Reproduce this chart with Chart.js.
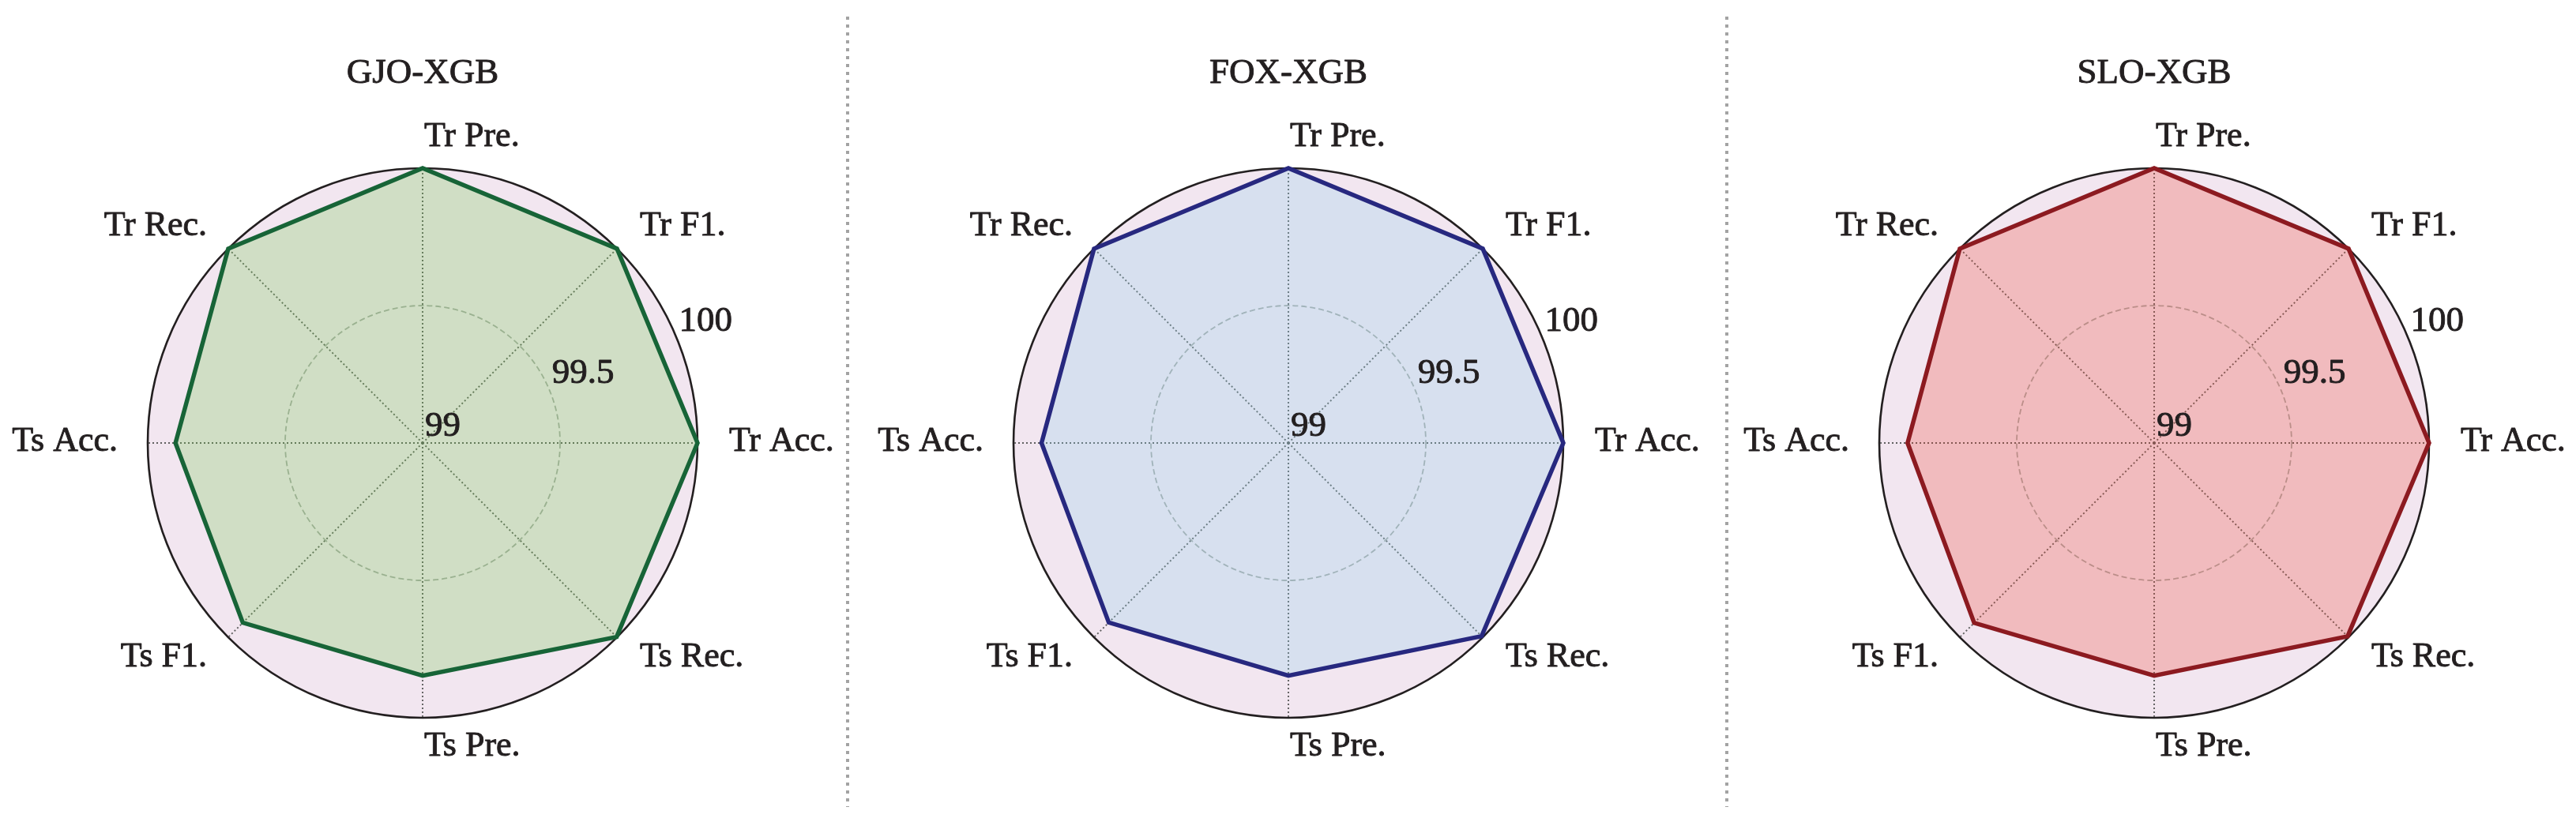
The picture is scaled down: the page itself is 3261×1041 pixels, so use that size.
<!DOCTYPE html>
<html>
<head>
<meta charset="utf-8">
<script src="https://cdn.jsdelivr.net/npm/chart.js@4/dist/chart.umd.min.js"></script>
<style>
  html, body { margin: 0; padding: 0; background: #ffffff; }
  body { width: 3261px; height: 1041px; position: relative; overflow: hidden; }
  canvas { position: absolute; top: 0; }
</style>
</head>
<body>
<canvas id="c1" width="1080" height="1041" style="left:0px"></canvas>
<canvas id="c2" width="1113" height="1041" style="left:1080px"></canvas>
<canvas id="c3" width="1068" height="1041" style="left:2193px"></canvas>
<script>
// ---- data (axes listed clockwise starting at the right-hand axis) ----
const categories = ["Tr Acc.", "Ts Rec.", "Ts Pre.", "Ts F1.", "Ts Acc.", "Tr Rec.", "Tr Pre.", "Tr F1."];
const modelNames = ["GJO-XGB", "FOX-XGB", "SLO-XGB"];
const gjoValues = [100, 99.998, 99.847, 99.925, 99.899, 100, 100, 100];
const foxValues = [100, 99.994, 99.847, 99.924, 99.898, 100, 100, 100];
const sloValues = [100, 99.995, 99.847, 99.926, 99.897, 100, 100, 100];
const tickValues = [99, 99.5, 100];
const tickLabels = ["99", "99.5", "100"];

const FONT = "'Liberation Serif', 'Times New Roman', serif";
const TEXT = '#231f20';

const styles = [
  { border: '#176437', fill: 'rgba(106,198,69,0.25)', pad: { left: 187, right: 197 }, sep: 1073 },
  { border: '#27287f', fill: 'rgba(135,206,235,0.25)', pad: { left: 203, right: 214 }, sep: 1106 },
  { border: '#8c1a20', fill: 'rgba(238,60,40,0.25)', pad: { left: 186, right: 186 }, sep: null }
];
const seriesList = [gjoValues, foxValues, sloValues];

function heavyText(ctx, txt, x, y) {
  ctx.fillText(txt, x, y);
  ctx.strokeText(txt, x, y);
}

const decorPlugin = {
  id: 'decor',
  afterDraw(chart, args, opts) {
    const ctx = chart.ctx;
    const scale = chart.scales.r;
    ctx.save();
    ctx.fillStyle = TEXT;
    ctx.strokeStyle = TEXT;
    ctx.lineWidth = 0.9;
    ctx.lineJoin = 'round';
    // point labels
    ctx.font = '44px ' + FONT;
    ctx.textBaseline = 'alphabetic';
    const labelDist = scale.drawingArea + 38;
    chart.data.labels.forEach((lab, i) => {
      const p = scale.getPointPosition(i, labelDist);
      const c = (p.x - scale.xCenter) / labelDist;
      if (c > -0.01) { ctx.textAlign = 'left'; heavyText(ctx, lab, p.x + 2, p.y + 10); }
      else { ctx.textAlign = 'right'; heavyText(ctx, lab, p.x, p.y + 10); }
    });
    // radial tick labels along 22.5 degrees
    ctx.font = '45px ' + FONT;
    ctx.textAlign = 'left';
    scale.ticks.forEach((t) => {
      const d = scale.getDistanceFromCenterForValue(t.value);
      const p = scale.getPointPosition(-0.5, d);
      const idx = tickValues.indexOf(t.value);
      heavyText(ctx, idx >= 0 ? tickLabels[idx] : String(t.value), p.x + 3, p.y - 9);
    });
    // thicken the library-drawn title to the same weight
    const tb = chart.titleBlock;
    if (tb) {
      const tOpts = tb.options;
      const lh = 45 * 1.2;
      ctx.font = '45px ' + FONT;
      ctx.textAlign = 'center';
      ctx.textBaseline = 'middle';
      ctx.strokeText(tOpts.text, (tb.left + tb.right) / 2, tb.top + 66 + lh / 2);
    }
    // separator
    if (opts.sep != null) {
      ctx.strokeStyle = '#a3a3a3';
      ctx.lineWidth = 4;
      ctx.setLineDash([4, 6]);
      ctx.beginPath();
      ctx.moveTo(opts.sep, 21);
      ctx.lineTo(opts.sep, 1022);
      ctx.stroke();
    }
    ctx.restore();
  }
};

['c1', 'c2', 'c3'].forEach((id, k) => {
  const st = styles[k];
  new Chart(document.getElementById(id), {
    type: 'radar',
    data: {
      labels: categories,
      datasets: [{
        label: modelNames[k],
        data: seriesList[k],
        borderColor: st.border,
        backgroundColor: st.fill,
        borderWidth: 5.5,
        borderJoinStyle: 'miter',
        pointRadius: 0,
        pointHoverRadius: 0,
        fill: true,
        clip: false
      }]
    },
    plugins: [decorPlugin],
    options: {
      responsive: false,
      animation: false,
      devicePixelRatio: 1,
      events: [],
      layout: { padding: { left: st.pad.left, right: st.pad.right, top: 0, bottom: 132 } },
      plugins: {
        legend: { display: false },
        tooltip: { enabled: false },
        title: {
          display: true,
          text: modelNames[k],
          color: TEXT,
          font: { family: FONT, size: 45, weight: 'normal', lineHeight: 1.2 },
          padding: { top: 66, bottom: 93 }
        },
        decor: { sep: st.sep }
      },
      scales: {
        r: {
          min: 99,
          max: 100,
          startAngle: 90,
          backgroundColor: '#f2e6f0',
          ticks: { display: false, stepSize: 0.5 },
          pointLabels: { display: false },
          angleLines: { display: true, color: '#606060', lineWidth: 1.9, borderDash: [2, 3] },
          grid: {
            circular: true,
            color: (c) => (c.tick && c.tick.value === 100) ? TEXT : '#aaaaaa',
            lineWidth: (c) => (c.tick && c.tick.value === 100) ? 2.6 : 1.8
          },
          border: {
            dash: (c) => (c.tick && c.tick.value === 100) ? [] : [7, 4]
          }
        }
      }
    }
  });
});
</script>
</body>
</html>
